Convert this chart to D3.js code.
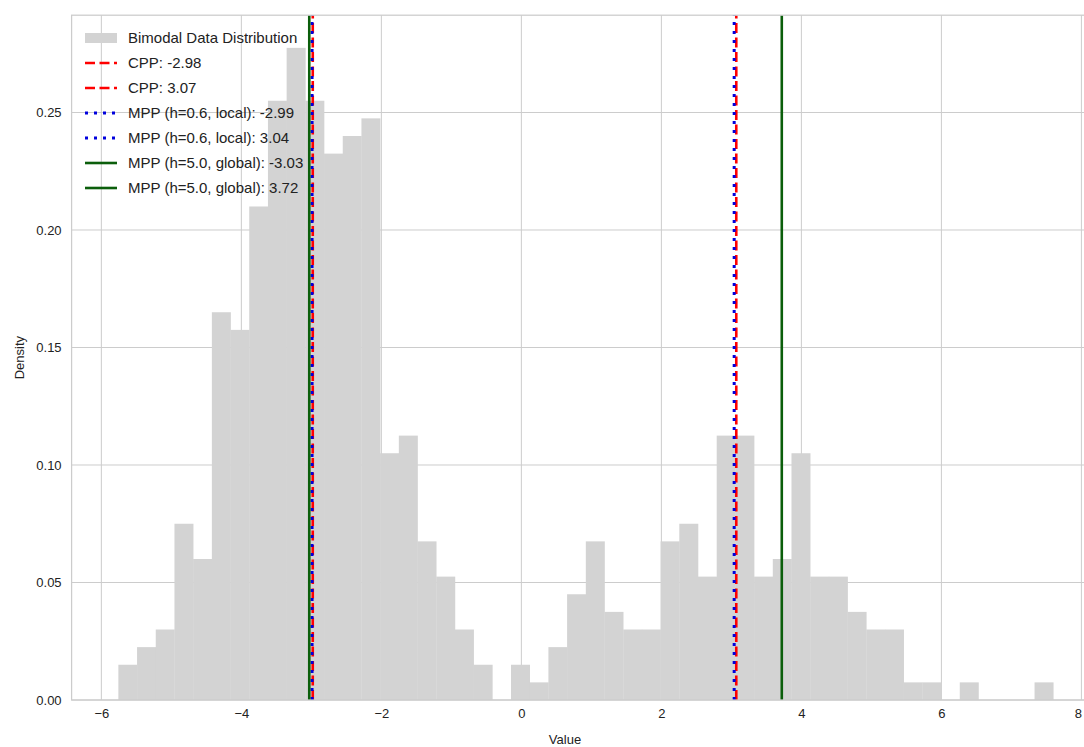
<!DOCTYPE html>
<html>
<head>
<meta charset="utf-8">
<script src="https://cdn.jsdelivr.net/npm/d3@7"></script>
<style>
  body { margin: 0; background: #fff; }
  svg { display: block; font-family: "Liberation Sans", Arial, sans-serif; }
</style>
</head>
<body>
<svg id="chart" width="1084" height="747"></svg>
<script>
// histogram: 50 equal bins, density values
const binStart = -5.757;
const binWidth = 0.2671;
const densities = [
  0.015, 0.0225, 0.03, 0.075, 0.06, 0.165, 0.1575, 0.21, 0.255, 0.2775,
  0.255, 0.2325, 0.24, 0.2475, 0.105, 0.1125, 0.0675, 0.0525, 0.03, 0.015,
  0, 0.015, 0.0075, 0.0225, 0.045, 0.0675, 0.0375, 0.03, 0.03, 0.0675,
  0.075, 0.0525, 0.1125, 0.1125, 0.0525, 0.06, 0.105, 0.0525, 0.0525, 0.0375,
  0.03, 0.03, 0.0075, 0.0075, 0, 0.0075, 0, 0, 0, 0.0075
];

// vertical reference lines
const markerLabels = ['CPP: -2.98', 'CPP: 3.07', 'MPP (h=0.6, local): -2.99', 'MPP (h=0.6, local): 3.04',
  'MPP (h=5.0, global): -3.03', 'MPP (h=5.0, global): 3.72'];
const markerValues = [-2.98, 3.07, -2.99, 3.04, -3.03, 3.72];
const markerKinds = ['cpp', 'cpp', 'local', 'local', 'global', 'global'];

const xTicks = [-6, -4, -2, 0, 2, 4, 6, 8];
const yTicks = [0, 0.05, 0.10, 0.15, 0.20, 0.25];

const styles = {
  cpp: { color: 'red', width: 2.6, dash: '10,4.5' },
  local: { color: '#0000dd', width: 3, dash: '3,6' },
  global: { color: '#0b5e0b', width: 2.6, dash: null }
};

const svg = d3.select('#chart');
const margin = { left: 71.6, top: 15.2, bottom: 700 };

const x = d3.scaleLinear().domain([-6.425, 8.27]).range([margin.left, 1100.3]);
const y = d3.scaleLinear().domain([0, 0.2914]).range([margin.bottom, margin.top]);

const g = svg.append('g');

// grid
g.selectAll('.gx')
  .data(xTicks)
  .enter()
  .append('line')
  .attr('x1', d => x(d)).attr('x2', d => x(d))
  .attr('y1', y.range()[0]).attr('y2', y.range()[1])
  .attr('stroke', '#cccccc').attr('stroke-width', 1);

g.selectAll('.gy')
  .data(yTicks)
  .enter()
  .append('line')
  .attr('x1', x.range()[0]).attr('x2', x.range()[1])
  .attr('y1', d => y(d)).attr('y2', d => y(d))
  .attr('stroke', '#cccccc').attr('stroke-width', 1);

// bars
g.selectAll('.bar')
  .data(densities)
  .enter()
  .append('rect')
  .attr('x', (d, i) => x(binStart + i * binWidth))
  .attr('width', (d, i) => x(binStart + (i + 1) * binWidth) - x(binStart + i * binWidth) + 0.3)
  .attr('y', d => y(d))
  .attr('height', d => y(0) - y(d))
  .attr('fill', '#d3d3d3');

// vertical lines
g.selectAll('.vline')
  .data(markerValues)
  .enter()
  .append('line')
  .attr('x1', d => x(d)).attr('x2', d => x(d))
  .attr('y1', y.range()[0]).attr('y2', y.range()[1])
  .attr('stroke', (d, i) => styles[markerKinds[i]].color)
  .attr('stroke-width', (d, i) => styles[markerKinds[i]].width)
  .attr('stroke-dasharray', (d, i) => styles[markerKinds[i]].dash);

// frame
g.append('rect')
  .attr('x', x.range()[0]).attr('y', y.range()[1])
  .attr('width', x.range()[1] - x.range()[0])
  .attr('height', y.range()[0] - y.range()[1])
  .attr('fill', 'none').attr('stroke', '#cccccc').attr('stroke-width', 1.25);

// axes (no tick marks, just labels)
const xAxis = g.append('g')
  .attr('transform', `translate(0,${y(0)})`)
  .call(d3.axisBottom(x).tickValues(xTicks).tickSize(0).tickPadding(9).tickFormat(d3.format('d')));
const yAxis = g.append('g')
  .attr('transform', `translate(${margin.left},0)`)
  .call(d3.axisLeft(y).tickValues(yTicks).tickSize(0).tickPadding(10).tickFormat(d3.format('.2f')));

[xAxis, yAxis].forEach(a => {
  a.select('.domain').remove();
  a.selectAll('text')
    .attr('fill', '#222')
    .style('font-size', '13px')
    .style('font-family', '"Liberation Sans", Arial, sans-serif');
});
// last x label sits on the window edge; keep it inside
xAxis.selectAll('.tick text').filter(d => d === 8).attr('text-anchor', 'end').attr('x', 0);

svg.append('text')
  .attr('x', 565)
  .attr('y', 744)
  .attr('text-anchor', 'middle')
  .attr('fill', '#222')
  .style('font-size', '13px')
  .text('Value');

svg.append('text')
  .attr('transform', `translate(24,${(y.range()[0] + y.range()[1]) / 2}) rotate(-90)`)
  .attr('text-anchor', 'middle')
  .attr('fill', '#222')
  .style('font-size', '13px')
  .text('Density');

// legend
const legend = svg.append('g').attr('transform', 'translate(85,38)');
const rowH = 25;

legend.append('rect')
  .attr('x', 0).attr('y', -5)
  .attr('width', 32).attr('height', 10)
  .attr('fill', '#d3d3d3');
legend.append('text')
  .attr('x', 43).attr('y', 0)
  .attr('dy', '0.35em')
  .attr('fill', '#222')
  .style('font-size', '15px')
  .text('Bimodal Data Distribution');

const items = legend.selectAll('.item')
  .data(markerLabels)
  .enter()
  .append('g')
  .attr('transform', (d, i) => `translate(0,${(i + 1) * rowH})`);

items.append('line')
  .attr('x1', 0).attr('x2', 32)
  .attr('stroke', (d, i) => styles[markerKinds[i]].color)
  .attr('stroke-width', (d, i) => styles[markerKinds[i]].width)
  .attr('stroke-dasharray', (d, i) => styles[markerKinds[i]].dash);

items.append('text')
  .attr('x', 43).attr('y', 0)
  .attr('dy', '0.35em')
  .attr('fill', '#222')
  .style('font-size', '15px')
  .text(d => d);
</script>
</body>
</html>
